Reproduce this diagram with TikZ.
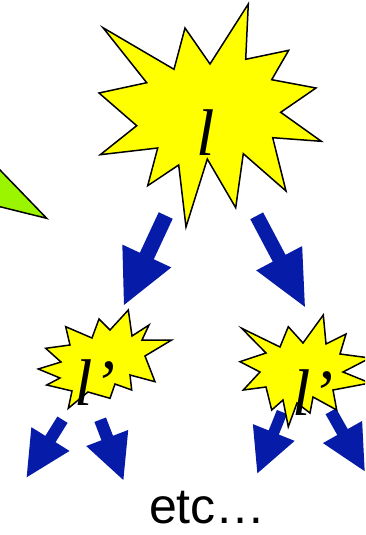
\documentclass[tikz,border=0pt]{standalone}
\usepackage{fontspec}
\setmainfont{Liberation Serif}
\newfontfamily\etcfont{Liberation Sans}
\usepackage{xcolor}
\definecolor{burstyellow}{HTML}{FFFF00}
\definecolor{royal}{HTML}{061CA8}
\definecolor{lime}{HTML}{9CF500}
\usetikzlibrary{arrows.meta,positioning,calc}
\tikzset{
  burst/.style  ={fill=burstyellow,draw=black,line width=1.5pt,line join=miter},
  wedge/.style  ={fill=lime,draw=black,line width=1.5pt,line join=miter},
  letter/.style ={font=\fontsize{66}{66}\selectfont\itshape,inner sep=0pt},
  etc/.style    ={font=\etcfont\fontsize{50}{50}\selectfont,inner sep=0pt},
  pics/fatarrow/.style n args={4}{code={
    \fill[royal] (0,-#2/2) -- ({#1-#4},-#2/2) -- ({#1-#4},-#3/2) -- (#1,0)
      -- ({#1-#4},#3/2) -- ({#1-#4},#2/2) -- (0,#2/2) -- cycle;
  }},
}

\begin{document}
\begin{tikzpicture}[x=1pt,y=-1pt]
\useasboundingbox (0,0) rectangle (365,535);
\begin{scope}
\clip (0,0) rectangle (365,535);
% ---- green wedge at the left edge
\draw[wedge] (-30,139) -- (46.7,218.3) -- (-30,199.3) -- cycle;

% ---- arrows
\pic[rotate=245]   at (165.7,215.5) {fatarrow={98.7}{15.4}{54}{54}};
\pic[rotate=-62.1] at (256.7,215.8) {fatarrow={103}{14.5}{52}{55}};
\pic[rotate=238.1] at (62.5,419.7)  {fatarrow={67.8}{12}{45}{45}};
\pic[rotate=-69]   at (100.2,419.7) {fatarrow={64.6}{12.4}{45}{45}};
\pic[rotate=248.1] at (282,412)     {fatarrow={66.1}{11}{45}{44}};
\pic[rotate=-60.5] at (330.8,411.3) {fatarrow={68.8}{12}{45}{45}};

% ---- bursts
\draw[burst] (103,27.7) -- (174,69.3) -- (185,28) -- (210,64) -- (248.3,4)
  -- (245.7,59.3) -- (288.7,50.3) -- (271.7,79.7) -- (316,88) -- (280.7,112.3)
  -- (321.3,141.3) -- (272.7,137.7) -- (286,191) -- (243.3,153.7) -- (235.7,207.7)
  -- (207.3,159) -- (186,227) -- (178.7,165) -- (147.7,185.7) -- (157.7,148)
  -- (100.3,154.7) -- (136.7,125.7) -- (99,93) -- (146.7,82.7) -- cycle;
\draw[burst] (38.3,369) -- (61,362) -- (45.7,348.3) -- (70,345) -- (65.7,326.7)
  -- (92,338) -- (99,319) -- (110,330) -- (128.3,310) -- (132,336) -- (149,325)
  -- (142,340) -- (171.7,340) -- (145,356) -- (155,381.7) -- (130,375)
  -- (131.7,390) -- (115,384) -- (110,398.3) -- (88,392) -- (68.3,408.3)
  -- (72,391) -- (46.7,385) -- (60,378) -- cycle;
\draw[burst] (241.7,328.3) -- (280,347) -- (288.3,326.7) -- (303,343) -- (323.3,315)
  -- (326,344) -- (346,334) -- (340,354) -- (370,358) -- (343,372) -- (370,383)
  -- (333,390) -- (336.7,410) -- (313,397) -- (310,413) -- (297,403)
  -- (288.3,426.7) -- (283,400) -- (271.7,410) -- (266,387) -- (243.3,390)
  -- (260,372) -- (240,361.7) -- (266,353) -- cycle;
\end{scope}

% ---- labels
\node[letter] (bigL)   at (205.5,132.5) {l};
\node[letter] (leftL)  at (95,383)      {l’};
\node[letter] (rightL) at (313,393)     {l’};
\node[etc,anchor=base] (etc) at (207.5,523) {etc…};
\end{tikzpicture}
\end{document}
